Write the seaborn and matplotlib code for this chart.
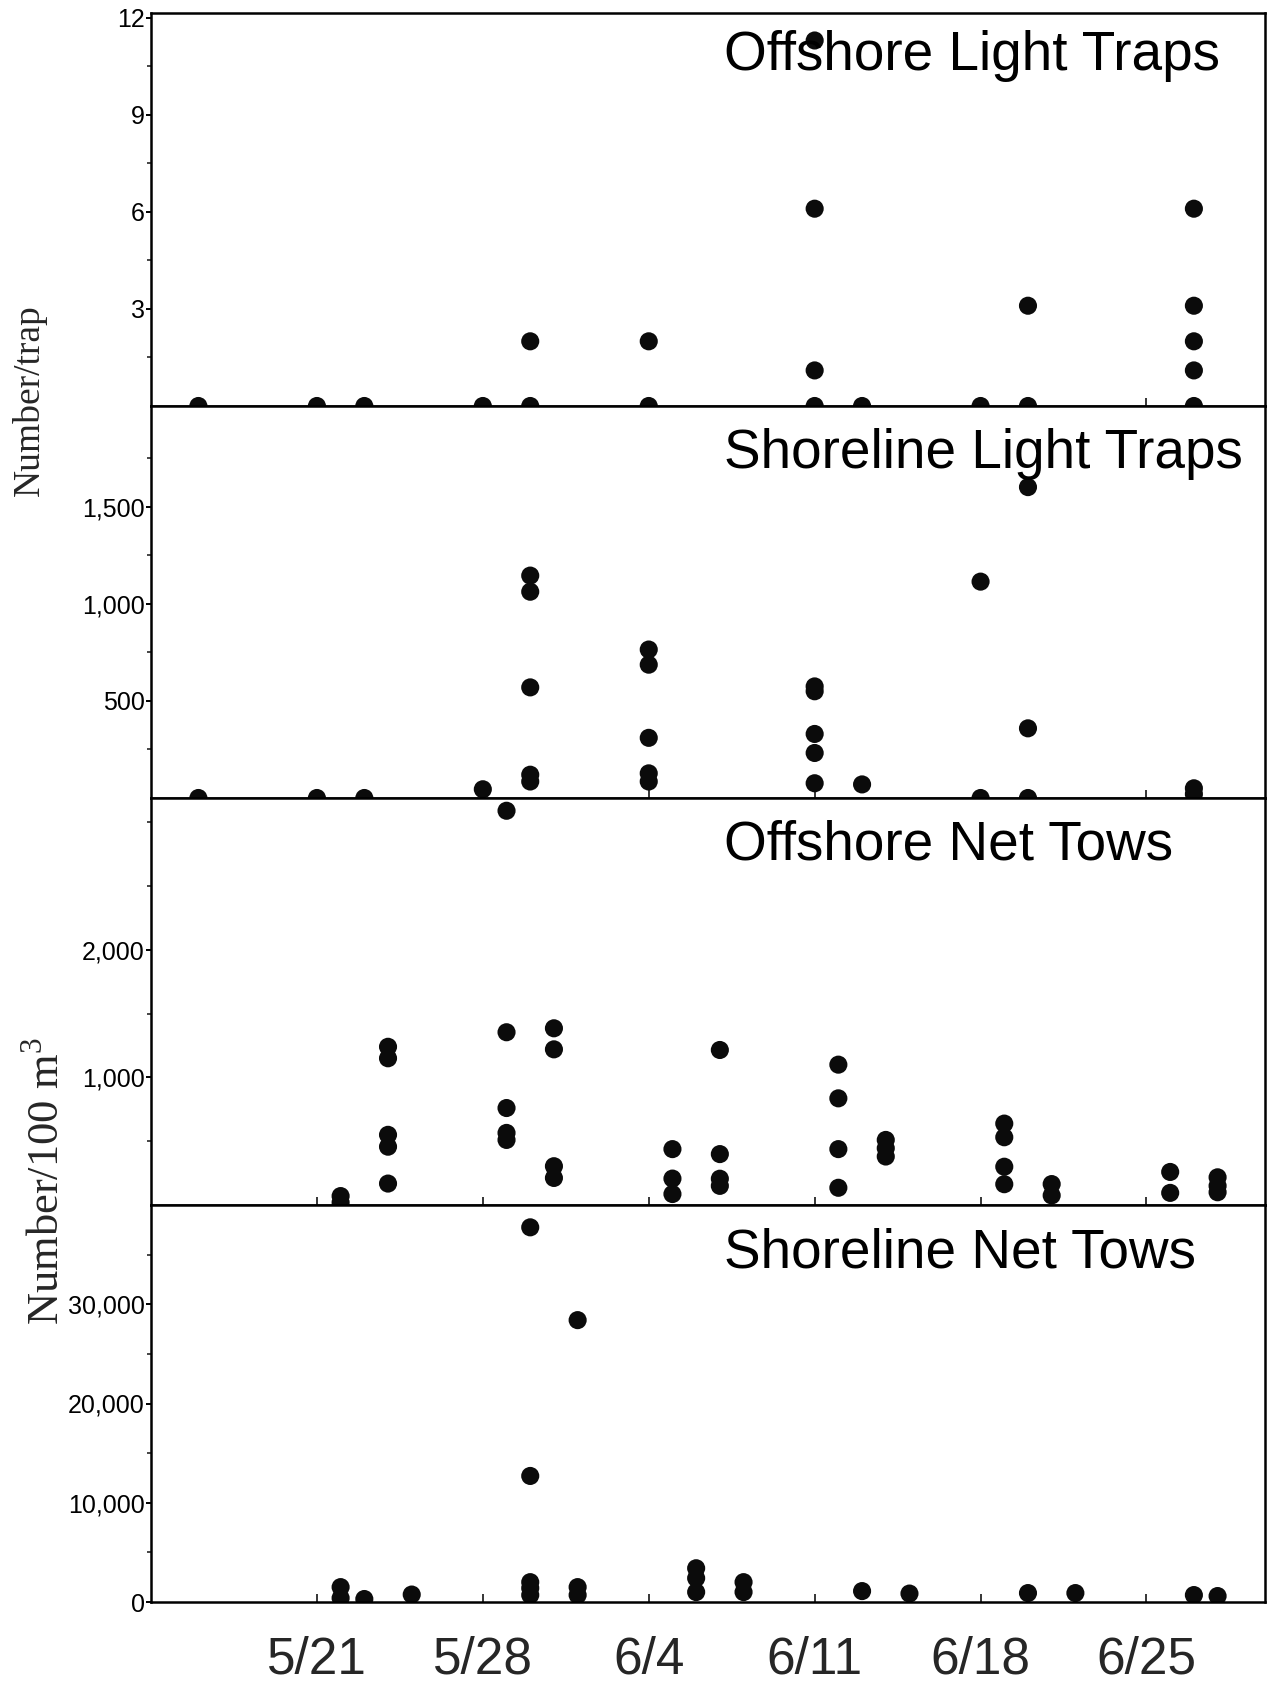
import pandas as pd
import matplotlib
matplotlib.use("Agg")
import matplotlib.pyplot as plt
import seaborn as sns
from matplotlib.ticker import FixedLocator, FuncFormatter, NullFormatter

# ---- catches by sampling date (month/day) ----
offshore_trap_dates = ["5/16", "5/21", "5/23", "5/28", "5/30", "5/30", "6/4", "6/4",
                       "6/11", "6/11", "6/11", "6/11", "6/13", "6/18", "6/20", "6/20",
                       "6/27", "6/27", "6/27", "6/27", "6/27"]
offshore_trap_values = [0, 0, 0, 0, 0, 2.0, 0, 2.0,
                        0, 1.1, 6.1, 11.3, 0, 0, 0, 3.1,
                        0, 1.1, 2.0, 3.1, 6.1]

shore_trap_dates = ["5/16", "5/21", "5/23", "5/28",
                    "5/30", "5/30", "5/30", "5/30", "5/30",
                    "6/4", "6/4", "6/4", "6/4", "6/4",
                    "6/11", "6/11", "6/11", "6/11", "6/11",
                    "6/13", "6/18", "6/18", "6/20", "6/20", "6/20", "6/27", "6/27"]
shore_trap_values = [0, 0, 0, 45,
                     1146, 1063, 570, 120, 85,
                     765, 687, 310, 127, 85,
                     575, 550, 330, 232, 76,
                     70, 1115, 0, 1602, 359, 0, 50, 20]

offshore_tow_dates = ["5/22", "5/22",
                      "5/24", "5/24", "5/24", "5/24", "5/24",
                      "5/29", "5/29", "5/29", "5/29", "5/29",
                      "5/31", "5/31", "5/31", "5/31",
                      "6/5", "6/5", "6/5",
                      "6/7", "6/7", "6/7", "6/7",
                      "6/12", "6/12", "6/12", "6/12",
                      "6/14", "6/14", "6/14",
                      "6/19", "6/19", "6/19", "6/19",
                      "6/21", "6/21", "6/26", "6/26",
                      "6/28", "6/28", "6/28"]
offshore_tow_values = [70, 20,
                       1240, 1150, 550, 457, 168,
                       3090, 1354, 760, 565, 510,
                       1385, 1220, 304, 212,
                       438, 207, 86,
                       1215, 399, 206, 150,
                       1100, 836, 438, 135,
                       510, 445, 380,
                       638, 531, 300, 163,
                       164, 75, 259, 95,
                       217, 150, 100]

shore_tow_dates = ["5/22", "5/22", "5/23", "5/25",
                   "5/30", "5/30", "5/30", "5/30", "5/30",
                   "6/1", "6/1", "6/1",
                   "6/6", "6/6", "6/6", "6/8", "6/8",
                   "6/13", "6/15", "6/20", "6/22", "6/27", "6/28"]
shore_tow_values = [1500, 400, 300, 750,
                    37750, 12700, 2000, 1400, 700,
                    28400, 1500, 700,
                    3400, 2400, 1000, 2000, 1000,
                    1100, 850, 900, 900, 700, 600]

panel_titles = ["Offshore Light Traps", "Shoreline Light Traps",
                "Offshore Net Tows", "Shoreline Net Tows"]
week_dates = ["5/21", "5/28", "6/4", "6/11", "6/18", "6/25"]

y_major = [[3, 6, 9, 12], [500, 1000, 1500], [1000, 2000], [0, 10000, 20000, 30000]]
y_minor = [[1.5, 4.5, 7.5, 10.5], [250, 750, 1250, 1750],
           [500, 1500, 2500, 3000], [5000, 15000, 25000, 35000]]
y_limits = [(0, 12.15), (0, 2020), (0, 3190), (0, 40000)]


def to_dates(days):
    return pd.to_datetime(days, format="%m/%d")


sns.set_style("ticks")
plt.rcParams["font.family"] = ["Liberation Sans", "DejaVu Sans"]
plt.rcParams["axes.linewidth"] = 1.8

W, H = 1275, 1684
fig = plt.figure(figsize=(W / 100, H / 100), dpi=100)

left_px, right_px = 151, 1265
# (top, bottom) of each panel in pixels from the top of the figure
panel_px = [(13, 406), (406, 798), (798, 1205), (1205, 1602)]
title_base_px = [57, 62, 62, 62]

series = [(offshore_trap_dates, offshore_trap_values),
          (shore_trap_dates, shore_trap_values),
          (offshore_tow_dates, offshore_tow_values),
          (shore_tow_dates, shore_tow_values)]

x_lo, x_hi = to_dates(["5/14", "6/30"])

for i, ((dates, values), (top, bot)) in enumerate(zip(series, panel_px)):
    ax = fig.add_axes([left_px / W, 1 - bot / H, (right_px - left_px) / W, (bot - top) / H])
    df = pd.DataFrame({"date": to_dates(dates), "value": values})
    sns.scatterplot(data=df, x="date", y="value", ax=ax, s=170, color="#0b0b0b",
                    linewidth=0, edgecolor="none", legend=False)
    ax.set_xlim(x_lo, x_hi)
    ax.set_ylim(*y_limits[i])
    ax.set_xlabel("")
    ax.set_ylabel("")

    # y axis: labelled majors and small outward minors
    ax.yaxis.set_major_locator(FixedLocator(y_major[i]))
    ax.yaxis.set_minor_locator(FixedLocator(y_minor[i]))
    ax.yaxis.set_major_formatter(FuncFormatter(lambda v, p: f"{v:,.0f}"))
    ax.yaxis.set_minor_formatter(NullFormatter())
    ax.tick_params(axis="y", which="major", direction="out", length=3.5, width=1.4,
                   labelsize=18, pad=1, colors="black")
    ax.tick_params(axis="y", which="minor", direction="out", length=3, width=1.2)

    # x axis: weekly ticks pointing into the panel
    ax.set_xticks(to_dates(week_dates))
    ax.xaxis.set_minor_locator(FixedLocator([]))
    ax.tick_params(axis="x", which="major", direction="in", length=6, width=1.3,
                   labelsize=37, pad=24)
    if i < 3:
        ax.tick_params(axis="x", labelbottom=False)
    else:
        ax.set_xticklabels(week_dates)

    for sp in ax.spines.values():
        sp.set_visible(True)
        sp.set_linewidth(1.8)
        sp.set_color("black")

    h = bot - top
    ax.text(0.514, 1 - title_base_px[i] / h, panel_titles[i], transform=ax.transAxes,
            ha="left", va="baseline", fontsize=39.5, color="black")

serif = ["Liberation Serif", "DejaVu Serif"]
fig.text(29 / W, 1 - 400 / H, "Number/trap", rotation=90, ha="center", va="center",
         fontsize=27, family=serif)
fig.text(47 / W, 1 - 1181 / H, r"Number/100 m$^{\mathregular{3}}$", rotation=90,
         ha="center", va="center", fontsize=32, family=serif)

fig.savefig("out.png", dpi=100)
